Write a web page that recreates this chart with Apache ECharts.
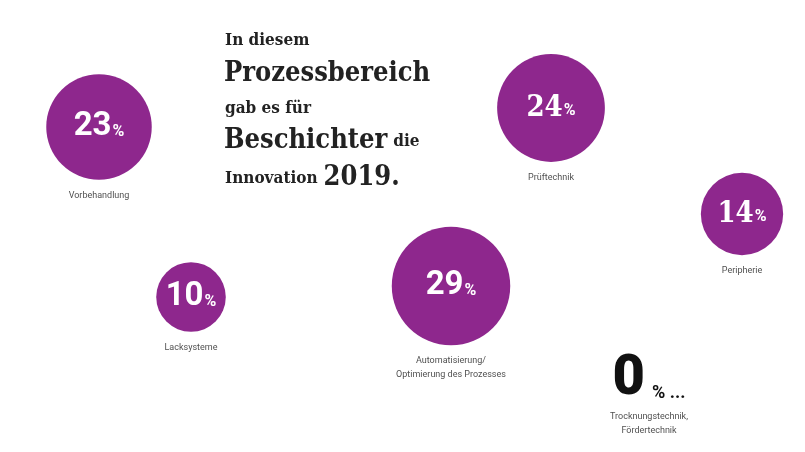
<!DOCTYPE html>
<html>
<head>
<meta charset="utf-8">
<script src="https://cdn.jsdelivr.net/npm/echarts@6/dist/echarts.min.js"></script>
<style>
  html, body { margin: 0; padding: 0; background: #ffffff; }
  #chart { width: 805px; height: 452px; }
</style>
</head>
<body>
<div id="chart"></div>
<script>
// ---- data ----
const categories = [
  'Vorbehandlung',
  'Lacksysteme',
  'Automatisierung/\nOptimierung des Prozesses',
  'Prüftechnik',
  'Peripherie',
  'Trocknungstechnik,\nFördertechnik'
];
const values = [23, 10, 29, 24, 14, 0];
const valueLabels = ['23', '10', '29', '24', '14', '0'];
const titleLines = ['In diesem', 'Prozessbereich', 'gab es für', 'Beschichter', 'die', 'Innovation', '2019.'];

// ---- layout (bubble placement on a free canvas, not data) ----
const layoutX = [99, 191, 451, 551, 742, 649];
const layoutY = [127, 297, 286, 108, 214, 380];
const numberStyle = ['sans', 'sans', 'sans', 'slab', 'slab', 'zero'];

const PURPLE = '#8e278d';
const SERIF = '"DejaVu Serif Condensed", "DejaVu Serif", serif';
const SANS = 'Roboto, "Noto Sans", sans-serif';

const bubbleData = values.map((v, i) => ({
  value: [layoutX[i], layoutY[i], v],
  name: categories[i]
}));

const nameData = values.map((v, i) => ({
  value: [layoutX[i], layoutY[i], v],
  name: categories[i],
  label: v === 0 ? { distance: 30 } : {}
}));

function sizeOf(v) { return v > 0 ? 22 * Math.sqrt(v) : 0; }

const chart = echarts.init(document.getElementById('chart'), null, { renderer: 'canvas' });
chart.setOption({
  animation: false,
  backgroundColor: '#ffffff',
  grid: { left: 0, right: 0, top: 0, bottom: 0 },
  xAxis: { type: 'value', min: 0, max: 805, show: false },
  yAxis: { type: 'value', min: 0, max: 452, inverse: true, show: false },
  graphic: [
    { type: 'text', x: 225, y: 41, silent: true,
      style: { text: titleLines[0], font: 'bold 17px ' + SERIF, fill: '#222', verticalAlign: 'middle' } },
    { type: 'text', x: 224, y: 74, silent: true,
      style: { text: titleLines[1], font: 'bold 27px ' + SERIF, fill: '#222', verticalAlign: 'middle' } },
    { type: 'text', x: 225, y: 109, silent: true,
      style: { text: titleLines[2], font: 'bold 17px ' + SERIF, fill: '#222', verticalAlign: 'middle' } },
    { type: 'text', x: 224, y: 141, silent: true,
      style: {
        text: '{b|' + titleLines[3] + '}{s|' + titleLines[4] + '}',
        verticalAlign: 'middle',
        rich: {
          b: { font: 'bold 27px ' + SERIF, fill: '#222', verticalAlign: 'bottom' },
          s: { font: 'bold 17px ' + SERIF, fill: '#222', verticalAlign: 'bottom', padding: [0, 0, 4, 6] }
        }
      } },
    { type: 'text', x: 225, y: 178, silent: true,
      style: {
        text: '{s|' + titleLines[5] + '}{b|' + titleLines[6] + '}',
        verticalAlign: 'middle',
        rich: {
          b: { font: 'bold 27px ' + SERIF, fill: '#222', verticalAlign: 'bottom', padding: [0, 0, 0, 6] },
          s: { font: 'bold 17px ' + SERIF, fill: '#222', verticalAlign: 'bottom', padding: [0, 0, 4, 0] }
        }
      } }
  ],
  series: [
    {
      type: 'scatter',
      silent: true,
      symbol: 'circle',
      symbolSize: d => sizeOf(d[2]),
      itemStyle: { color: PURPLE, opacity: 1 },
      emphasis: { disabled: true },
      data: bubbleData,
      label: {
        show: true,
        position: 'inside',
        color: '#fff',
        formatter: p => {
          const i = p.dataIndex;
          const st = numberStyle[i];
          if (st === 'zero') return '{z|' + valueLabels[i] + '}{zp|% ...}';
          if (st === 'slab') return '{m|' + valueLabels[i] + '}{p|%}';
          return '{n|' + valueLabels[i] + '}{p|%}';
        },
        rich: {
          n: { fontFamily: SANS, fontWeight: 'bold', fontSize: 33, color: '#fff', verticalAlign: 'bottom' },
          m: { fontFamily: SERIF, fontWeight: 'bold', fontSize: 29, color: '#fff', verticalAlign: 'bottom' },
          p: { fontFamily: SANS, fontWeight: 'bold', fontSize: 16, color: '#fff', verticalAlign: 'bottom', padding: [0, 0, 4, 1] },
          z: { fontFamily: SANS, fontWeight: 900, fontSize: 56, color: '#111', verticalAlign: 'bottom' },
          zp: { fontFamily: SANS, fontWeight: 'bold', fontSize: 18, color: '#111', verticalAlign: 'bottom', padding: [0, 0, 6, 7] }
        }
      }
    },
    {
      type: 'scatter',
      silent: true,
      symbol: 'circle',
      symbolSize: d => sizeOf(d[2]),
      itemStyle: { color: 'rgba(0,0,0,0)' },
      emphasis: { disabled: true },
      data: nameData,
      label: {
        show: true,
        position: 'bottom',
        distance: 9,
        color: '#222',
        fontFamily: SANS,
        fontSize: 9,
        lineHeight: 14,
        align: 'center',
        formatter: p => p.name
      }
    }
  ]
});
</script>
</body>
</html>
